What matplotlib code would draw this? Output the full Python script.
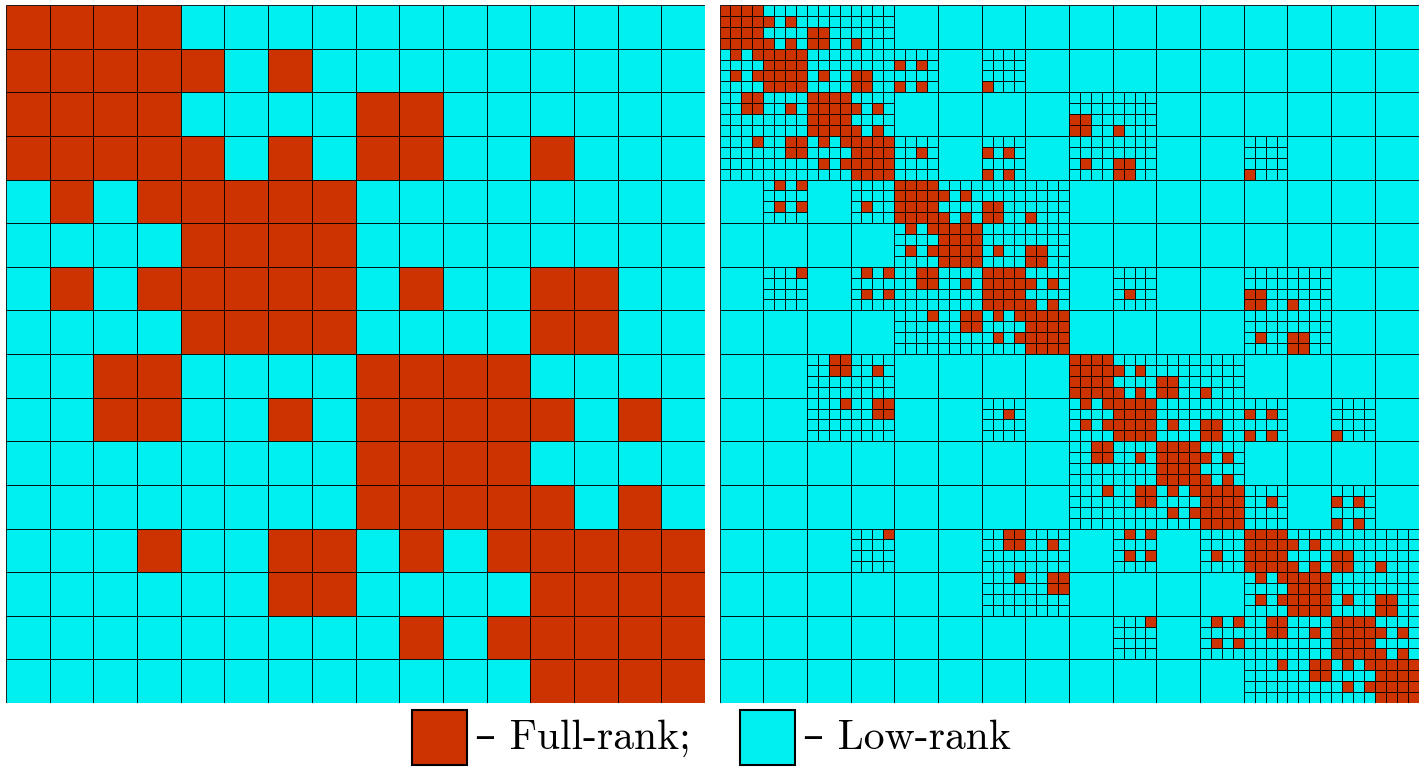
import matplotlib
matplotlib.use("Agg")
import matplotlib.pyplot as plt
from matplotlib.patches import Rectangle

# colours
full_color = "#cc3300"
low_color = "#00f0f0"

# left panel: 16x16 block structure, '#' = full-rank, 'o' = low-rank
left_blocks = [
    "####oooooooooooo",
    "#####o#ooooooooo",
    "####oooo##oooooo",
    "#####o#o##oo#ooo",
    "o#o#####oooooooo",
    "oooo####oooooooo",
    "o#o#####o#oo##oo",
    "oooo####oooo##oo",
    "oo##oooo####oooo",
    "oo##oo#o#####o#o",
    "oooooooo####oooo",
    "oooooooo#####o#o",
    "ooo#oo##o#o#####",
    "oooooo##oooo####",
    "ooooooooo#o#####",
    "oooooooooooo####",
]

# right panel: 64x64 fine cells, grouped by 4 (one group = one 16x16 block)
# '#' = full-rank, 'o' = low-rank fine cell, '.' = part of an unsplit low-rank block
right_blocks = [
    "#### oooo oooo oooo .... .... .... .... .... .... .... .... .... .... .... ....",
    "#### #o#o oooo oooo .... .... .... .... .... .... .... .... .... .... .... ....",
    "#### oooo ##oo oooo .... .... .... .... .... .... .... .... .... .... .... ....",
    "#### #o#o ##oo #ooo .... .... .... .... .... .... .... .... .... .... .... ....",
    "o#o# #### oooo oooo oooo .... oooo .... .... .... .... .... .... .... .... ....",
    "oooo #### oooo oooo #o#o .... oooo .... .... .... .... .... .... .... .... ....",
    "o#o# #### o#oo ##oo oooo .... oooo .... .... .... .... .... .... .... .... ....",
    "oooo #### oooo ##oo #o#o .... #ooo .... .... .... .... .... .... .... .... ....",
    "oo## oooo #### oooo .... .... .... .... oooo oooo .... .... .... .... .... ....",
    "oo## oo#o #### #o#o .... .... .... .... oooo oooo .... .... .... .... .... ....",
    "oooo oooo #### oooo .... .... .... .... ##oo oooo .... .... .... .... .... ....",
    "oooo oooo #### #o#o .... .... .... .... ##oo #ooo .... .... .... .... .... ....",
    "ooo# oo## o#o# #### oooo .... oooo .... oooo oooo .... .... oooo .... .... ....",
    "oooo oo## oooo #### oo#o .... #o#o .... oooo oooo .... .... oooo .... .... ....",
    "oooo oooo o#o# #### oooo .... oooo .... o#oo ##oo .... .... oooo .... .... ....",
    "oooo oooo oooo #### oooo .... #o#o .... oooo ##oo .... .... #ooo .... .... ....",
    ".... o#o# .... oooo #### oooo oooo oooo .... .... .... .... .... .... .... ....",
    ".... oooo .... oooo #### #o#o oooo oooo .... .... .... .... .... .... .... ....",
    ".... o#o# .... o#oo #### oooo ##oo oooo .... .... .... .... .... .... .... ....",
    ".... oooo .... oooo #### #o#o ##oo #ooo .... .... .... .... .... .... .... ....",
    ".... .... .... .... o#o# #### oooo oooo .... .... .... .... .... .... .... ....",
    ".... .... .... .... oooo #### oooo oooo .... .... .... .... .... .... .... ....",
    ".... .... .... .... o#o# #### o#oo ##oo .... .... .... .... .... .... .... ....",
    ".... .... .... .... oooo #### oooo ##oo .... .... .... .... .... .... .... ....",
    ".... ooo# .... o#o# oo## oooo #### oooo .... oooo .... .... oooo oooo .... ....",
    ".... oooo .... oooo oo## oo#o #### #o#o .... oooo .... .... oooo oooo .... ....",
    ".... oooo .... o#o# oooo oooo #### oooo .... o#oo .... .... ##oo oooo .... ....",
    ".... oooo .... oooo oooo oooo #### #o#o .... oooo .... .... ##oo #ooo .... ....",
    ".... .... .... .... ooo# oo## o#o# #### .... .... .... .... oooo oooo .... ....",
    ".... .... .... .... oooo oo## oooo #### .... .... .... .... oooo oooo .... ....",
    ".... .... .... .... oooo oooo o#o# #### .... .... .... .... o#oo ##oo .... ....",
    ".... .... .... .... oooo oooo oooo #### .... .... .... .... oooo ##oo .... ....",
    ".... .... oo## oooo .... .... .... .... #### oooo oooo oooo .... .... .... ....",
    ".... .... oo## oo#o .... .... .... .... #### #o#o oooo oooo .... .... .... ....",
    ".... .... oooo oooo .... .... .... .... #### oooo ##oo oooo .... .... .... ....",
    ".... .... oooo oooo .... .... .... .... #### #o#o ##oo #ooo .... .... .... ....",
    ".... .... ooo# oo## .... .... oooo .... o#o# #### oooo oooo oooo .... oooo ....",
    ".... .... oooo oo## .... .... oo#o .... oooo #### oooo oooo #o#o .... oooo ....",
    ".... .... oooo oooo .... .... oooo .... o#o# #### o#oo ##oo oooo .... oooo ....",
    ".... .... oooo oooo .... .... oooo .... oooo #### oooo ##oo #o#o .... #ooo ....",
    ".... .... .... .... .... .... .... .... oo## oooo #### oooo .... .... .... ....",
    ".... .... .... .... .... .... .... .... oo## oo#o #### #o#o .... .... .... ....",
    ".... .... .... .... .... .... .... .... oooo oooo #### oooo .... .... .... ....",
    ".... .... .... .... .... .... .... .... oooo oooo #### #o#o .... .... .... ....",
    ".... .... .... .... .... .... .... .... ooo# oo## o#o# #### oooo .... oooo ....",
    ".... .... .... .... .... .... .... .... oooo oo## oooo #### oo#o .... #o#o ....",
    ".... .... .... .... .... .... .... .... oooo oooo o#o# #### oooo .... oooo ....",
    ".... .... .... .... .... .... .... .... oooo oooo oooo #### oooo .... #o#o ....",
    ".... .... .... ooo# .... .... oo## oooo .... o#o# .... oooo #### oooo oooo oooo",
    ".... .... .... oooo .... .... oo## oo#o .... oooo .... oooo #### #o#o oooo oooo",
    ".... .... .... oooo .... .... oooo oooo .... o#o# .... o#oo #### oooo ##oo oooo",
    ".... .... .... oooo .... .... oooo oooo .... oooo .... oooo #### #o#o ##oo #ooo",
    ".... .... .... .... .... .... ooo# oo## .... .... .... .... o#o# #### oooo oooo",
    ".... .... .... .... .... .... oooo oo## .... .... .... .... oooo #### oooo oooo",
    ".... .... .... .... .... .... oooo oooo .... .... .... .... o#o# #### o#oo ##oo",
    ".... .... .... .... .... .... oooo oooo .... .... .... .... oooo #### oooo ##oo",
    ".... .... .... .... .... .... .... .... .... ooo# .... o#o# oo## oooo #### oooo",
    ".... .... .... .... .... .... .... .... .... oooo .... oooo oo## oo#o #### #o#o",
    ".... .... .... .... .... .... .... .... .... oooo .... o#o# oooo oooo #### oooo",
    ".... .... .... .... .... .... .... .... .... oooo .... oooo oooo oooo #### #o#o",
    ".... .... .... .... .... .... .... .... .... .... .... .... ooo# oo## o#o# ####",
    ".... .... .... .... .... .... .... .... .... .... .... .... oooo oo## oooo ####",
    ".... .... .... .... .... .... .... .... .... .... .... .... oooo oooo o#o# ####",
    ".... .... .... .... .... .... .... .... .... .... .... .... oooo oooo oooo ####",
]

legend_labels = ["\u2013 Full-rank;", "\u2013 Low-rank"]

W, H = 1426, 771
fig = plt.figure(figsize=(W / 100, H / 100), dpi=100)


def px_axes(x0, y0, x1, y1):
    # axes placed by pixel box (top-left origin)
    ax = fig.add_axes([x0 / W, 1 - y1 / H, (x1 - x0) / W, (y1 - y0) / H])
    ax.set_axis_off()
    return ax


def cell(ax, x, y, size, code):
    c = full_color if code == "#" else low_color
    ax.add_patch(Rectangle((x, y), size, size, facecolor=c,
                           edgecolor="black", linewidth=0.6))


# left panel
ax1 = px_axes(6, 5, 705, 703)
n = len(left_blocks)
for i, row in enumerate(left_blocks):
    for j, ch in enumerate(row):
        cell(ax1, j, i, 1, ch)
ax1.set_xlim(0, n)
ax1.set_ylim(n, 0)

# right panel
ax2 = px_axes(719.5, 5, 1418.5, 703)
fine = [r.replace(" ", "") for r in right_blocks]
m = len(fine)
for bi in range(m // 4):
    for bj in range(m // 4):
        sub = [fine[4 * bi + a][4 * bj:4 * bj + 4] for a in range(4)]
        if all(s == "...." for s in sub):
            cell(ax2, 4 * bj, 4 * bi, 4, "o")
        else:
            for a in range(4):
                for b in range(4):
                    cell(ax2, 4 * bj + b, 4 * bi + a, 1, sub[a][b])
ax2.set_xlim(0, m)
ax2.set_ylim(m, 0)

# legend
font = ["cmr10", "DejaVu Serif"]
for (sx, tx), lab, col in zip([(412, 475), (740, 803)], legend_labels,
                              [full_color, low_color]):
    fig.patches.append(Rectangle((sx / W, 1 - 765 / H), 55 / W, 55 / H,
                                 transform=fig.transFigure, facecolor=col,
                                 edgecolor="black", linewidth=1.5))
    fig.text(tx / W, 1 - 738 / H, lab, fontsize=30, family=font,
             va="center", ha="left")

fig.savefig("out.png", dpi=100)
